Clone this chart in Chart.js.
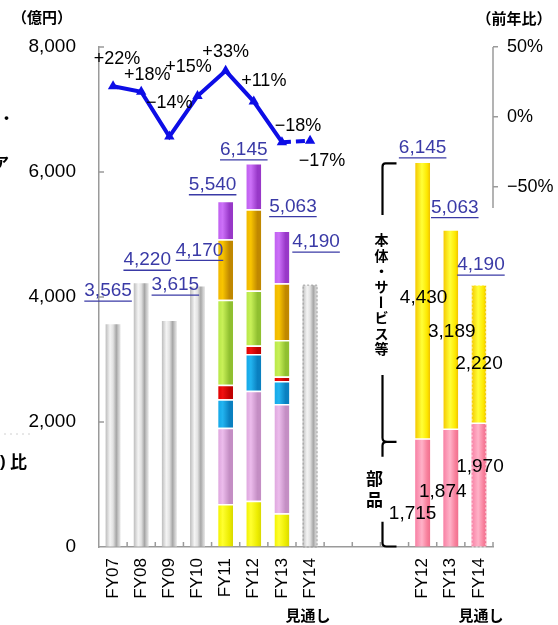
<!DOCTYPE html>
<html><head><meta charset="utf-8">
<script src="https://cdn.jsdelivr.net/npm/chart.js@4.4.1/dist/chart.umd.min.js"></script>
<style>html,body{margin:0;padding:0;background:#fff;overflow:hidden}canvas{display:block}</style>
</head><body>
<canvas id="c" width="558" height="625"></canvas>
<script>
// Category slots: 8 fiscal years, 3 empty spacer slots, then the FY12–FY14 parts/body split
const categories = ['FY07','FY08','FY09','FY10','FY11','FY12','FY13','FY14','','','','FY12','FY13','FY14'];

// Sales totals (億円), FY07–FY14 (FY14 = outlook)
const totalYears = ['FY07','FY08','FY09','FY10','FY11','FY12','FY13','FY14'];
const totalSales = [3565, 4220, 3615, 4170, 5540, 6145, 5063, 4190];

// FY11–FY13 segment breakdown, bottom to top (億円)
const segYellow   = [690, 740, 540];
const segLavender = [1220, 1760, 1750];
const segBlue     = [455, 590, 368];
const segRed      = [230, 133, 69];
const segGreen    = [1360, 880, 587];
const segOrange   = [970, 1302, 907];
const segPurple   = [615, 740, 842];

// Year-on-year change (%), FY07–FY14
const growth = [22, 18, -14, 15, 33, 11, -18, -17];

// FY12–FY14 split: parts (部品) and body/services (本体・サービス等)
const partsSales = [1715, 1874, 1970];
const bodySales  = [4430, 3189, 2220];

const growthTicks = [50, 0, -50];
const yTicks = [0, 2000, 4000, 6000, 8000];

// label offsets from the anchor point (px)
const totalLabelOffsets = [[-5,-33],[6,-23],[6,-36],[2,-36],[-13,-16],[-10,-13],[11,-24],[6,-43]];
const rightTotalOffsets = [[0,-15],[4,-23],[2,-20]];
const growthLabelOffsets = [[4,-27],[6,-17],[0,-34],[-9,-29],[0,-19],[10,-21],[16,-16],[12,20]];
const partsLabelOffsets = [[-10,21],[-8,4],[1,-18]];
const bodyLabelOffsets  = [[1,-4],[1,2],[0,9]];

const FONT = '"Liberation Sans", Arial, "Noto Sans CJK JP", sans-serif';
const JFONT = '"Noto Sans CJK JP", "Liberation Sans", sans-serif';
const BLUE_TEXT = '#3a3aa6';
const LINE_BLUE = '#0d0de6';
const AXIS_GREY = '#9a9a9a';
const BAR_PCT = 0.53;

const N = categories.length;
const LEFT_BREAKDOWN_START = 4;   // FY11 slot
const RIGHT_SPLIT_START = 11;     // right-hand FY12 slot

function place(values, start) {
  const out = new Array(N).fill(null);
  values.forEach((v, i) => { out[start + i] = v; });
  return out;
}
const greyData = new Array(N).fill(null);
[0,1,2,3,7].forEach(i => { greyData[i] = totalSales[i]; });

function barGradient(stops) {
  return (c) => {
    const chart = c.chart;
    const xs = chart.scales && chart.scales.x;
    if (c.type !== 'data' || !chart.chartArea || !xs) return stops[1][1];
    const cx = xs.getPixelForValue(c.dataIndex);
    const half = (xs.getPixelForValue(1) - xs.getPixelForValue(0)) * BAR_PCT / 2;
    const g = chart.ctx.createLinearGradient(cx - half, 0, cx + half, 0);
    stops.forEach(([o, col]) => g.addColorStop(o, col));
    return g;
  };
}
const shade = (edge, light, dark) => [[0, edge], [0.3, light], [0.75, dark], [1, dark]];

function seg(label, values, stops) {
  return {
    type: 'bar', label, data: place(values, LEFT_BREAKDOWN_START), stack: 's', order: 1,
    backgroundColor: barGradient(stops),
    borderColor: 'rgba(255,255,255,0.9)', borderWidth: {top: 1.5, left: 0, right: 0, bottom: 0},
    borderSkipped: 'start', barPercentage: BAR_PCT, categoryPercentage: 1
  };
}

const datasets = [
  {
    type: 'line', label: '前年比', data: place(growth, 0), yAxisID: 'y1', order: 0,
    borderColor: LINE_BLUE, borderWidth: 4, tension: 0,
    pointStyle: 'triangle', pointRadius: 6, pointBorderWidth: 0,
    pointBackgroundColor: LINE_BLUE, pointBorderColor: LINE_BLUE,
    segment: { borderDash: c => c.p0DataIndex === 6 ? [9, 5] : undefined },
    clip: false
  },
  {
    type: 'bar', label: '売上高', data: greyData, stack: 's', order: 1,
    backgroundColor: barGradient([[0,'#bdbdbd'],[0.3,'#f4f4f4'],[0.5,'#e2e2e2'],[0.72,'#a6a6a6'],[0.88,'#cfcfcf'],[1,'#e6e6e6']]),
    borderWidth: 0, barPercentage: BAR_PCT, categoryPercentage: 1
  },
  seg('A', segYellow,   [[0,'#f2f200'],[0.3,'#ffff30'],[0.75,'#ecec00'],[1,'#d8d800']]),
  seg('B', segLavender, shade('#dea6de', '#ecbcec', '#c48ec4')),
  seg('C', segBlue,     shade('#14a8e8', '#22b4f0', '#0a80c0')),
  seg('D', segRed,      shade('#e00000', '#f01010', '#c00000')),
  seg('E', segGreen,    shade('#b8e848', '#c8f058', '#90c030')),
  seg('F', segOrange,   shade('#f0b800', '#f8c400', '#c08800')),
  seg('G', segPurple,   shade('#c060f0', '#cc70f8', '#9838c8')),
  {
    type: 'bar', label: '部品', data: place(partsSales, RIGHT_SPLIT_START), stack: 's', order: 1,
    backgroundColor: barGradient([[0,'#f880a4'],[0.45,'#ffb2c8'],[0.8,'#f8809c'],[1,'#f0708e']]),
    borderWidth: 0, barPercentage: BAR_PCT, categoryPercentage: 1
  },
  {
    type: 'bar', label: '本体・サービス等', data: place(bodySales, RIGHT_SPLIT_START), stack: 's', order: 1,
    backgroundColor: barGradient([[0,'#f4c800'],[0.45,'#ffff38'],[0.8,'#fde800'],[1,'#f0c000']]),
    borderColor: 'rgba(255,255,255,0.9)', borderWidth: {top: 0, left: 0, right: 0, bottom: 1.5},
    borderSkipped: false, barPercentage: BAR_PCT, categoryPercentage: 1
  }
];

const fmt = v => v.toLocaleString('en-US');

const decor = {
  id: 'decor',
  afterDatasetsDraw(chart) {
    const {ctx, scales: {x, y}} = chart;
    // dashed outline on the FY14 outlook bars
    const half = (x.getPixelForValue(1) - x.getPixelForValue(0)) * BAR_PCT / 2;
    ctx.save();
    ctx.lineWidth = 1;
    ctx.setLineDash([2, 2]);
    ctx.strokeStyle = 'rgba(150,150,150,0.9)';
    let cx = x.getPixelForValue(7);
    ctx.strokeRect(cx - half + 0.5, y.getPixelForValue(totalSales[7]), half * 2 - 1, y.getPixelForValue(0) - y.getPixelForValue(totalSales[7]));
    ctx.strokeStyle = 'rgba(255,255,255,0.8)';
    cx = x.getPixelForValue(13);
    const top = y.getPixelForValue(partsSales[2] + bodySales[2]);
    ctx.strokeRect(cx - half + 0.5, top, half * 2 - 1, y.getPixelForValue(0) - top);
    ctx.restore();
  },
  afterDraw(chart) {
    const {ctx, chartArea: ca, scales: {x, y, y1}} = chart;
    const catW = x.getPixelForValue(1) - x.getPixelForValue(0);
    const ln = (x0, y0, x1, y1_) => { ctx.beginPath(); ctx.moveTo(x0, y0); ctx.lineTo(x1, y1_); ctx.stroke(); };
    ctx.save();

    // inward tick marks on the value and category axes
    ctx.strokeStyle = AXIS_GREY; ctx.lineWidth = 1.5;
    yTicks.slice(1).forEach(v => { const py = y.getPixelForValue(v); ln(ca.left, py, ca.left + 5, py); });
    for (let i = 0; i < N; i++) {
      const px = x.getPixelForValue(i) + catW / 2;
      ln(px, ca.bottom, px, ca.bottom - 5);
    }
    // right-hand axis line for the growth scale
    ln(ca.right, y1.getPixelForValue(50), ca.right, y1.getPixelForValue(-65));

    // totals above the bars (underlined)
    ctx.textAlign = 'center'; ctx.textBaseline = 'middle';
    ctx.font = '19px ' + FONT;
    const underlined = (txt, px, py) => {
      ctx.fillStyle = BLUE_TEXT; ctx.fillText(txt, px, py);
      const w = ctx.measureText(txt).width;
      ctx.strokeStyle = BLUE_TEXT; ctx.lineWidth = 1.3;
      ln(px - w / 2, py + 10, px + w / 2, py + 10);
    };
    totalSales.forEach((v, i) => {
      const [dx, dy] = totalLabelOffsets[i];
      underlined(fmt(v), x.getPixelForValue(i) + dx, y.getPixelForValue(v) + dy);
    });
    partsSales.forEach((p, i) => {
      const v = p + bodySales[i];
      const [dx, dy] = rightTotalOffsets[i];
      underlined(fmt(v), x.getPixelForValue(RIGHT_SPLIT_START + i) + dx, y.getPixelForValue(v) + dy);
    });

    // growth rates
    ctx.fillStyle = '#000';
    ctx.font = '18px ' + FONT;
    growth.forEach((g, i) => {
      const [dx, dy] = growthLabelOffsets[i];
      const txt = (g > 0 ? '+' : '−') + Math.abs(g) + '%';
      ctx.fillText(txt, x.getPixelForValue(i) + dx, y1.getPixelForValue(g) + dy);
    });

    // values inside the parts / body bars
    ctx.font = '19px ' + FONT;
    const partsMeta = chart.getDatasetMeta(9), bodyMeta = chart.getDatasetMeta(10);
    partsSales.forEach((v, i) => {
      const el = partsMeta.data[RIGHT_SPLIT_START + i];
      const [dx, dy] = partsLabelOffsets[i];
      ctx.fillText(fmt(v), el.x + dx, (el.y + el.base) / 2 + dy);
    });
    bodySales.forEach((v, i) => {
      const el = bodyMeta.data[RIGHT_SPLIT_START + i];
      const [dx, dy] = bodyLabelOffsets[i];
      ctx.fillText(fmt(v), el.x + dx, (el.y + el.base) / 2 + dy);
    });

    // bracket grouping the split bars
    const bx = x.getPixelForValue(10) - 12;
    const yTop = y.getPixelForValue(partsSales[0] + bodySales[0]);
    const yMid = y.getPixelForValue(partsSales[0]);
    const yBot = y.getPixelForValue(0);
    ctx.strokeStyle = '#000'; ctx.lineWidth = 2.2; ctx.lineJoin = 'round';
    ctx.beginPath(); ctx.moveTo(bx + 14, yTop + 0.5); ctx.lineTo(bx + 3, yTop + 0.5);
    ctx.quadraticCurveTo(bx, yTop + 0.5, bx, yTop + 4); ctx.lineTo(bx, yTop + 52); ctx.stroke();
    ctx.beginPath(); ctx.moveTo(bx, yTop + 212); ctx.lineTo(bx, yMid - 2);
    ctx.quadraticCurveTo(bx, yMid + 2, bx + 4, yMid + 2); ctx.lineTo(bx + 14, yMid + 2); ctx.stroke();
    ctx.beginPath(); ctx.moveTo(bx + 4, yMid + 2); ctx.quadraticCurveTo(bx, yMid + 2, bx, yMid + 6);
    ctx.lineTo(bx, yMid + 17); ctx.stroke();
    ctx.beginPath(); ctx.moveTo(bx, yMid + 82); ctx.lineTo(bx, yBot - 4);
    ctx.quadraticCurveTo(bx, yBot - 0.5, bx + 4, yBot - 0.5); ctx.lineTo(bx + 14, yBot - 0.5); ctx.stroke();

    // vertical captions
    ctx.fillStyle = '#000';
    ctx.font = 'bold 14px ' + JFONT;
    const body = '本体・サービス等';
    [...body].forEach((ch, k) => {
      const py = yTop + 77 + k * 15.6;
      if (ch === 'ー') {
        ctx.save(); ctx.translate(bx - 1, py); ctx.rotate(Math.PI / 2); ctx.fillText(ch, 0, 0); ctx.restore();
      } else {
        ctx.fillText(ch, bx - 1, py);
      }
    });
    ctx.font = 'bold 17px ' + JFONT;
    ['部', '品'].forEach((ch, k) => ctx.fillText(ch, bx - 8, yMid + 39 + k * 21));

    // unit captions
    ctx.font = 'bold 15px ' + JFONT;
    ctx.fillText('（億円）', 42, 17);
    ctx.fillText('（前年比）', 514, 18);

    // outlook captions
    ctx.font = 'bold 15px ' + JFONT;
    ctx.fillText('見通し', x.getPixelForValue(7) - 2, 615);
    ctx.fillText('見通し', x.getPixelForValue(13) + 2, 615);

    // caption fragments along the left margin
    ctx.textAlign = 'left';
    ctx.font = 'bold 17px ' + FONT;
    ctx.fillText(')', 0, 462);
    ctx.font = 'bold 17px ' + JFONT;
    ctx.fillText('比', 10, 462);
    ctx.font = 'bold 15px ' + JFONT;
    ctx.fillText('・', -1, 118);
    ctx.textAlign = 'right';
    ctx.fillText('ア', 9, 162);
    ctx.strokeStyle = '#d0d0d0'; ctx.lineWidth = 1; ctx.setLineDash([2, 4]);
    ln(4, 434, 32, 434);
    ctx.restore();
  }
};

new Chart(document.getElementById('c'), {
  type: 'bar',
  data: { labels: categories, datasets },
  options: {
    responsive: false, animation: false,
    layout: { padding: { top: 47, left: 0, right: 0, bottom: 0 } },
    plugins: { legend: { display: false }, tooltip: { enabled: false } },
    scales: {
      x: {
        stacked: true, offset: true,
        grid: { display: true, drawOnChartArea: false, drawTicks: false },
        border: { display: true, color: AXIS_GREY, width: 1.5 },
        ticks: { autoSkip: false, minRotation: 90, maxRotation: 90, padding: 11, color: '#000', font: { size: 17, family: FONT } },
        afterFit(s) { s.height = 78; }
      },
      y: {
        stacked: true, min: 0, max: 8000, position: 'left',
        afterBuildTicks(s) { s.ticks = yTicks.map(v => ({ value: v })); },
        ticks: { padding: 23, color: '#000', font: { size: 19, family: FONT }, callback: v => fmt(v) },
        grid: { display: true, drawOnChartArea: false, drawTicks: false },
        border: { display: true, color: AXIS_GREY, width: 1.5 },
        afterFit(s) { s.width = 99; }
      },
      y1: {
        position: 'right', min: -307.1, max: 50,
        afterBuildTicks(s) { s.ticks = growthTicks.map(v => ({ value: v })); },
        grid: { display: true, drawOnChartArea: false, drawTicks: true, tickLength: 5, color: AXIS_GREY, lineWidth: 1.5 },
        border: { display: false },
        ticks: { padding: 9, color: '#000', font: { size: 18, family: FONT }, callback: v => (v < 0 ? '−' : '') + Math.abs(v) + '%' },
        afterFit(s) { s.width = 65; }
      }
    }
  },
  plugins: [decor]
});
</script>
</body></html>
